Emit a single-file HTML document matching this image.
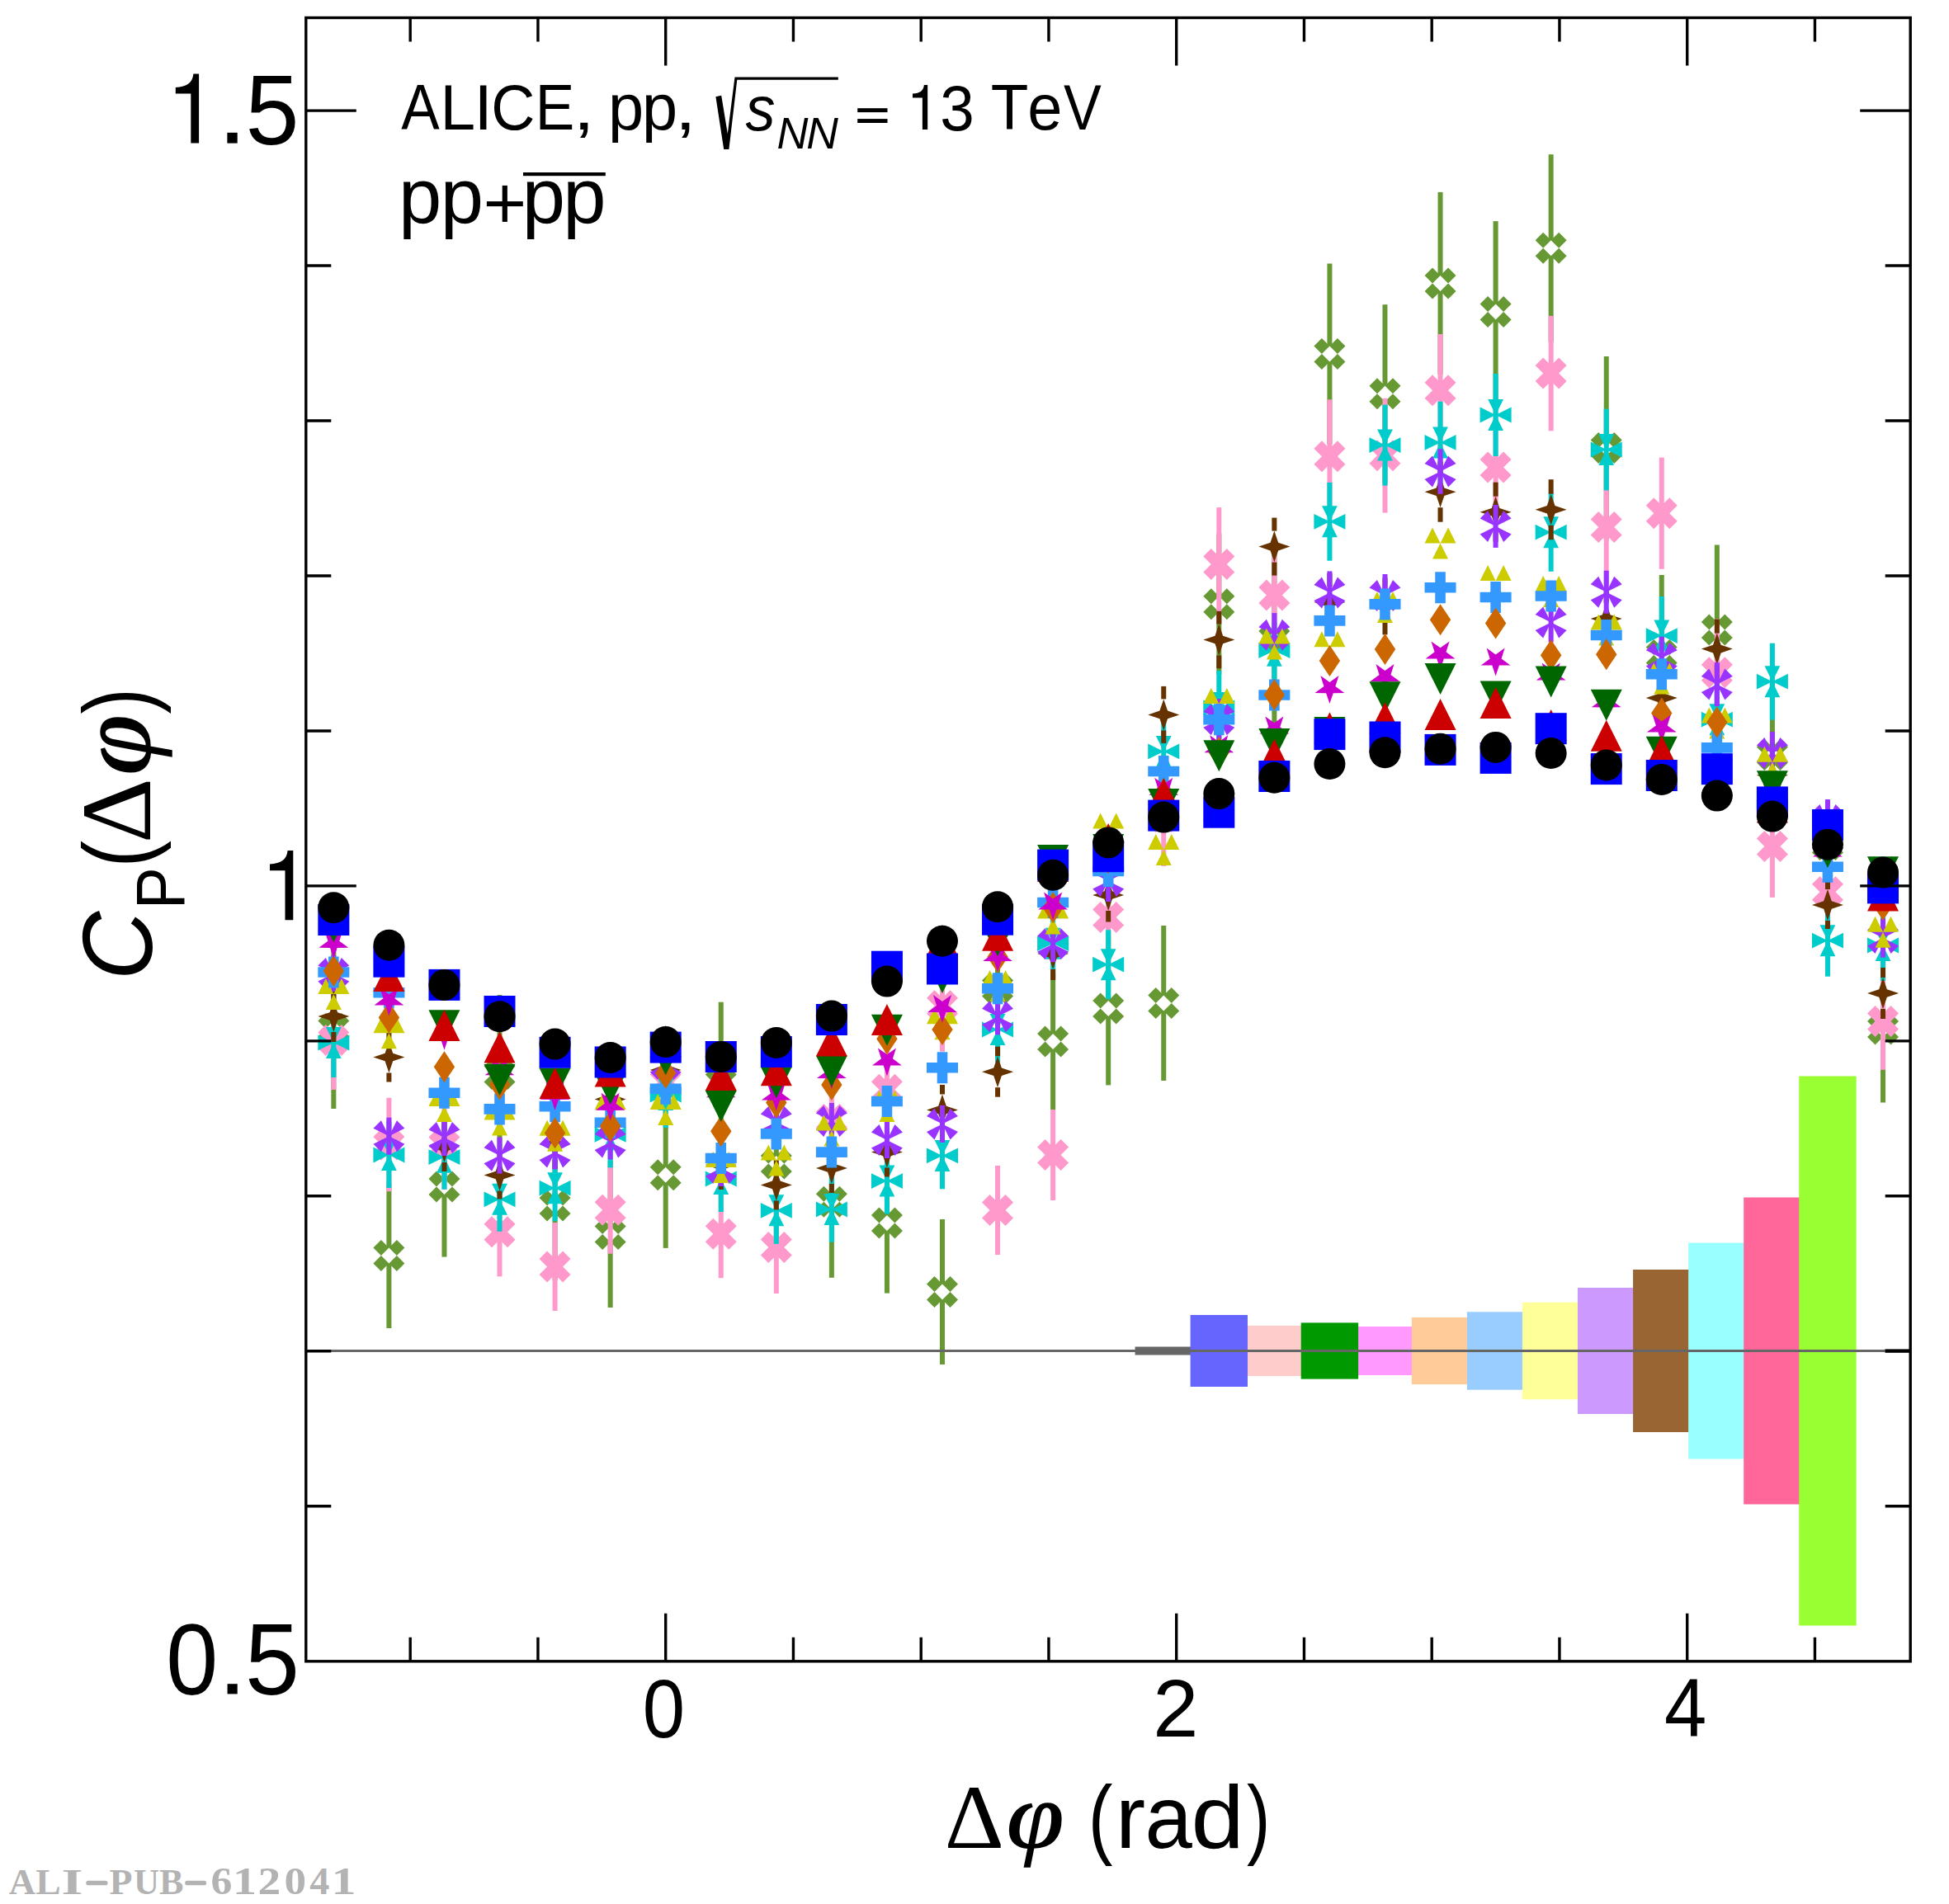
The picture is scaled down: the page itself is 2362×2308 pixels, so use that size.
<!DOCTYPE html><html><head><meta charset="utf-8"><style>html,body{margin:0;padding:0;background:#fff;overflow:hidden}svg{display:block}</style></head><body>
<svg xmlns="http://www.w3.org/2000/svg" xmlns:xlink="http://www.w3.org/1999/xlink" width="2362" height="2308" viewBox="0 0 2362 2308">
<rect width="2362" height="2308" fill="#fff"/>
<defs>
<g id="mL"><path fill-rule="evenodd" d="M0.00,-9.50L9.50,-19.00L19.00,-9.50L9.50,0.00L19.00,9.50L9.50,19.00L0.00,9.50L-9.50,19.00L-19.00,9.50L-9.50,0.00L-19.00,-9.50L-9.50,-19.00Z M0,-9.5L9.5,0L0,9.5L-9.5,0Z"/></g>
<g id="mI"><polygon points="0.00,-9.50 9.50,-19.00 19.00,-9.50 9.50,0.00 19.00,9.50 9.50,19.00 0.00,9.50 -9.50,19.00 -19.00,9.50 -9.50,0.00 -19.00,-9.50 -9.50,-19.00"/></g>
<g id="mC"><path d="M0,0L-19,-9.4L-19,9.4Z M0,0L-9.4,-19L9.4,-19Z M0,0L19,-9.4L19,9.4Z M0,0L-9.4,19L9.4,19Z"/></g>
<g id="mW"><polygon points="0.00,-19.00 4.80,-4.80 19.00,0.00 4.80,4.80 0.00,19.00 -4.80,4.80 -19.00,0.00 -4.80,-4.80"/></g>
<g id="mP"><path d="M0,0L-19,-9.5L-9.5,-19Z M0,0L9.5,-19L19,-9.5Z M0,0L19,9.5L9.5,19Z M0,0L-9.5,19L-19,9.5Z"/></g>
<g id="mY"><path d="M-19,0L0,0L-9.5,-19Z M0,0L19,0L9.5,-19Z M-9.5,19L9.5,19L0,0Z"/></g>
<g id="mD"><polygon points="-6.30,-19.00 6.30,-19.00 6.30,-6.30 19.00,-6.30 19.00,6.30 6.30,6.30 6.30,19.00 -6.30,19.00 -6.30,6.30 -19.00,6.30 -19.00,-6.30 -6.30,-6.30"/></g>
<g id="mO"><polygon points="0.00,-19.00 12.70,0.00 0.00,19.00 -12.70,0.00"/></g>
<g id="mM"><polygon points="0.00,18.80 -4.29,5.91 -17.88,5.81 -6.94,-2.26 -11.05,-15.21 -0.00,-7.30 11.05,-15.21 6.94,-2.26 17.88,5.81 4.29,5.91"/></g>
<g id="mG"><polygon points="-19.00,-19.00 19.00,-19.00 0.00,19.00"/></g>
<g id="mR"><polygon points="0.00,-19.00 19.00,19.00 -19.00,19.00"/></g>
<g id="mB"><rect x="-19" y="-19" width="38" height="38"/></g>
<g id="mK"><circle r="19"/></g>
</defs>
<g>
<rect x="1509.66" y="1606.90" width="69.4" height="61.20" fill="#ffcccc"/>
<rect x="1643.78" y="1608.00" width="69.4" height="59.00" fill="#ff99ff"/>
<rect x="1375.54" y="1632.50" width="69.4" height="10.00" fill="#666666"/>
<rect x="1442.60" y="1594.00" width="69.4" height="87.00" fill="#6666ff"/>
<rect x="1576.72" y="1603.40" width="69.4" height="68.20" fill="#009900"/>
<rect x="1710.84" y="1596.90" width="69.4" height="81.20" fill="#ffcc99"/>
<rect x="1777.90" y="1590.30" width="69.4" height="94.40" fill="#99ccff"/>
<rect x="1844.96" y="1578.70" width="69.4" height="117.60" fill="#ffff99"/>
<rect x="1912.02" y="1561.00" width="69.4" height="153.00" fill="#cc99ff"/>
<rect x="1979.08" y="1539.00" width="69.4" height="197.00" fill="#996633"/>
<rect x="2046.14" y="1506.50" width="69.4" height="262.00" fill="#99ffff"/>
<rect x="2113.20" y="1451.50" width="69.4" height="372.00" fill="#ff6699"/>
<rect x="2180.26" y="1304.50" width="69.4" height="666.00" fill="#99ff33"/>
</g>
<g fill="#669933">
<rect x="401.34" y="1150.00" width="6" height="87.50"/>
<rect x="401.34" y="1256.50" width="6" height="87.50"/>
<use xlink:href="#mL" x="404.34" y="1247.00"/>
<rect x="468.40" y="1434.00" width="6" height="78.50"/>
<rect x="468.40" y="1531.50" width="6" height="78.50"/>
<use xlink:href="#mL" x="471.40" y="1522.00"/>
<rect x="535.46" y="1353.60" width="6" height="75.50"/>
<rect x="535.46" y="1448.10" width="6" height="75.50"/>
<use xlink:href="#mL" x="538.46" y="1438.60"/>
<rect x="602.52" y="1206.00" width="6" height="86.50"/>
<rect x="602.52" y="1311.50" width="6" height="86.50"/>
<use xlink:href="#mL" x="605.52" y="1302.00"/>
<rect x="669.58" y="1371.50" width="6" height="80.50"/>
<rect x="669.58" y="1471.00" width="6" height="80.50"/>
<use xlink:href="#mL" x="672.58" y="1461.50"/>
<rect x="736.64" y="1407.00" width="6" height="79.50"/>
<rect x="736.64" y="1505.50" width="6" height="79.50"/>
<use xlink:href="#mL" x="739.64" y="1496.00"/>
<rect x="803.70" y="1335.50" width="6" height="79.20"/>
<rect x="803.70" y="1433.70" width="6" height="79.20"/>
<use xlink:href="#mL" x="806.70" y="1424.20"/>
<rect x="870.76" y="1214.70" width="6" height="68.80"/>
<rect x="870.76" y="1302.50" width="6" height="68.80"/>
<use xlink:href="#mL" x="873.76" y="1293.00"/>
<rect x="937.82" y="1320.60" width="6" height="80.50"/>
<rect x="937.82" y="1420.10" width="6" height="80.50"/>
<use xlink:href="#mL" x="940.82" y="1410.60"/>
<rect x="1004.88" y="1364.80" width="6" height="82.50"/>
<rect x="1004.88" y="1466.30" width="6" height="82.50"/>
<use xlink:href="#mL" x="1007.88" y="1456.80"/>
<rect x="1071.94" y="1397.60" width="6" height="75.50"/>
<rect x="1071.94" y="1492.10" width="6" height="75.50"/>
<use xlink:href="#mL" x="1074.94" y="1482.60"/>
<rect x="1139.00" y="1478.00" width="6" height="78.50"/>
<rect x="1139.00" y="1575.50" width="6" height="78.50"/>
<use xlink:href="#mL" x="1142.00" y="1566.00"/>
<rect x="1206.06" y="1113.00" width="6" height="75.50"/>
<rect x="1206.06" y="1207.50" width="6" height="75.50"/>
<use xlink:href="#mL" x="1209.06" y="1198.00"/>
<rect x="1273.12" y="1180.00" width="6" height="73.10"/>
<rect x="1273.12" y="1272.10" width="6" height="73.10"/>
<use xlink:href="#mL" x="1276.12" y="1262.60"/>
<rect x="1340.18" y="1129.40" width="6" height="83.50"/>
<rect x="1340.18" y="1231.90" width="6" height="83.50"/>
<use xlink:href="#mL" x="1343.18" y="1222.40"/>
<rect x="1407.24" y="1122.00" width="6" height="84.50"/>
<rect x="1407.24" y="1225.50" width="6" height="84.50"/>
<use xlink:href="#mL" x="1410.24" y="1216.00"/>
<rect x="1474.30" y="647.20" width="6" height="75.50"/>
<rect x="1474.30" y="741.70" width="6" height="75.50"/>
<use xlink:href="#mL" x="1477.30" y="732.20"/>
<rect x="1541.36" y="664.50" width="6" height="100.50"/>
<rect x="1541.36" y="784.00" width="6" height="100.50"/>
<use xlink:href="#mL" x="1544.36" y="774.50"/>
<rect x="1608.42" y="319.50" width="6" height="100.00"/>
<rect x="1608.42" y="438.50" width="6" height="100.00"/>
<use xlink:href="#mL" x="1611.42" y="429.00"/>
<rect x="1675.48" y="369.20" width="6" height="98.50"/>
<rect x="1675.48" y="486.70" width="6" height="98.50"/>
<use xlink:href="#mL" x="1678.48" y="477.20"/>
<rect x="1742.54" y="232.90" width="6" height="101.10"/>
<rect x="1742.54" y="353.00" width="6" height="101.10"/>
<use xlink:href="#mL" x="1745.54" y="343.50"/>
<rect x="1809.60" y="268.10" width="6" height="100.50"/>
<rect x="1809.60" y="387.60" width="6" height="100.50"/>
<use xlink:href="#mL" x="1812.60" y="378.10"/>
<rect x="1876.66" y="187.20" width="6" height="104.00"/>
<rect x="1876.66" y="310.20" width="6" height="104.00"/>
<use xlink:href="#mL" x="1879.66" y="300.70"/>
<rect x="1943.72" y="432.00" width="6" height="101.50"/>
<rect x="1943.72" y="552.50" width="6" height="101.50"/>
<use xlink:href="#mL" x="1946.72" y="543.00"/>
<rect x="2010.78" y="697.00" width="6" height="87.50"/>
<rect x="2010.78" y="803.50" width="6" height="87.50"/>
<use xlink:href="#mL" x="2013.78" y="794.00"/>
<rect x="2077.84" y="660.50" width="6" height="93.50"/>
<rect x="2077.84" y="773.00" width="6" height="93.50"/>
<use xlink:href="#mL" x="2080.84" y="763.50"/>
<rect x="2144.90" y="825.00" width="6" height="80.50"/>
<rect x="2144.90" y="924.50" width="6" height="80.50"/>
<use xlink:href="#mL" x="2147.90" y="915.00"/>
<use xlink:href="#mL" x="2214.96" y="1024.00"/>
<rect x="2279.02" y="1158.50" width="6" height="79.50"/>
<rect x="2279.02" y="1257.00" width="6" height="79.50"/>
<use xlink:href="#mL" x="2282.02" y="1247.50"/>
</g>
<g fill="#ff99cc">
<rect x="401.34" y="1201.00" width="6" height="120.00"/>
<use xlink:href="#mI" x="404.34" y="1261.00"/>
<rect x="468.40" y="1330.80" width="6" height="113.40"/>
<use xlink:href="#mI" x="471.40" y="1387.50"/>
<rect x="535.46" y="1334.00" width="6" height="108.00"/>
<use xlink:href="#mI" x="538.46" y="1388.00"/>
<rect x="602.52" y="1439.30" width="6" height="108.00"/>
<use xlink:href="#mI" x="605.52" y="1493.30"/>
<rect x="669.58" y="1482.00" width="6" height="107.00"/>
<use xlink:href="#mI" x="672.58" y="1535.50"/>
<rect x="736.64" y="1413.70" width="6" height="106.00"/>
<use xlink:href="#mI" x="739.64" y="1466.70"/>
<rect x="803.70" y="1258.00" width="6" height="108.00"/>
<use xlink:href="#mI" x="806.70" y="1312.00"/>
<rect x="870.76" y="1442.20" width="6" height="107.00"/>
<use xlink:href="#mI" x="873.76" y="1495.70"/>
<rect x="937.82" y="1456.00" width="6" height="112.00"/>
<use xlink:href="#mI" x="940.82" y="1512.00"/>
<rect x="1004.88" y="1303.00" width="6" height="108.00"/>
<use xlink:href="#mI" x="1007.88" y="1357.00"/>
<rect x="1071.94" y="1266.70" width="6" height="108.00"/>
<use xlink:href="#mI" x="1074.94" y="1320.70"/>
<rect x="1139.00" y="1163.80" width="6" height="111.00"/>
<use xlink:href="#mI" x="1142.00" y="1219.30"/>
<rect x="1206.06" y="1413.00" width="6" height="108.00"/>
<use xlink:href="#mI" x="1209.06" y="1467.00"/>
<rect x="1273.12" y="1345.00" width="6" height="110.00"/>
<use xlink:href="#mI" x="1276.12" y="1400.00"/>
<rect x="1340.18" y="1057.10" width="6" height="110.00"/>
<use xlink:href="#mI" x="1343.18" y="1112.10"/>
<rect x="1407.24" y="930.00" width="6" height="120.00"/>
<use xlink:href="#mI" x="1410.24" y="990.00"/>
<rect x="1474.30" y="615.10" width="6" height="137.60"/>
<use xlink:href="#mI" x="1477.30" y="683.90"/>
<rect x="1541.36" y="671.40" width="6" height="100.00"/>
<use xlink:href="#mI" x="1544.36" y="721.40"/>
<rect x="1608.42" y="484.30" width="6" height="138.00"/>
<use xlink:href="#mI" x="1611.42" y="553.30"/>
<rect x="1675.48" y="482.80" width="6" height="138.80"/>
<use xlink:href="#mI" x="1678.48" y="552.20"/>
<rect x="1742.54" y="405.00" width="6" height="136.60"/>
<use xlink:href="#mI" x="1745.54" y="473.30"/>
<rect x="1809.60" y="497.50" width="6" height="138.00"/>
<use xlink:href="#mI" x="1812.60" y="566.50"/>
<rect x="1876.66" y="382.90" width="6" height="139.40"/>
<use xlink:href="#mI" x="1879.66" y="452.60"/>
<rect x="1943.72" y="570.10" width="6" height="138.00"/>
<use xlink:href="#mI" x="1946.72" y="639.10"/>
<rect x="2010.78" y="554.60" width="6" height="135.20"/>
<use xlink:href="#mI" x="2013.78" y="622.20"/>
<rect x="2077.84" y="750.30" width="6" height="130.00"/>
<use xlink:href="#mI" x="2080.84" y="815.30"/>
<rect x="2144.90" y="963.90" width="6" height="124.00"/>
<use xlink:href="#mI" x="2147.90" y="1025.90"/>
<rect x="2211.96" y="1026.30" width="6" height="110.00"/>
<use xlink:href="#mI" x="2214.96" y="1081.30"/>
<rect x="2279.02" y="1179.40" width="6" height="117.40"/>
<use xlink:href="#mI" x="2282.02" y="1238.10"/>
</g>
<g fill="#00cccc">
<rect x="401.34" y="1222.00" width="6" height="84.00"/>
<use xlink:href="#mC" x="404.34" y="1264.00"/>
<rect x="468.40" y="1360.00" width="6" height="80.00"/>
<use xlink:href="#mC" x="471.40" y="1400.00"/>
<rect x="535.46" y="1363.70" width="6" height="78.00"/>
<use xlink:href="#mC" x="538.46" y="1402.70"/>
<rect x="602.52" y="1414.80" width="6" height="78.00"/>
<use xlink:href="#mC" x="605.52" y="1453.80"/>
<rect x="669.58" y="1400.20" width="6" height="80.00"/>
<use xlink:href="#mC" x="672.58" y="1440.20"/>
<rect x="736.64" y="1335.30" width="6" height="80.00"/>
<use xlink:href="#mC" x="739.64" y="1375.30"/>
<rect x="803.70" y="1287.00" width="6" height="80.00"/>
<use xlink:href="#mC" x="806.70" y="1327.00"/>
<rect x="870.76" y="1389.00" width="6" height="80.00"/>
<use xlink:href="#mC" x="873.76" y="1429.00"/>
<rect x="937.82" y="1426.80" width="6" height="81.00"/>
<use xlink:href="#mC" x="940.82" y="1467.30"/>
<rect x="1004.88" y="1426.40" width="6" height="79.20"/>
<use xlink:href="#mC" x="1007.88" y="1466.00"/>
<rect x="1071.94" y="1391.60" width="6" height="80.00"/>
<use xlink:href="#mC" x="1074.94" y="1431.60"/>
<rect x="1139.00" y="1360.50" width="6" height="80.80"/>
<use xlink:href="#mC" x="1142.00" y="1400.90"/>
<rect x="1206.06" y="1208.00" width="6" height="80.00"/>
<use xlink:href="#mC" x="1209.06" y="1248.00"/>
<rect x="1273.12" y="1101.70" width="6" height="84.00"/>
<use xlink:href="#mC" x="1276.12" y="1143.70"/>
<rect x="1340.18" y="1127.20" width="6" height="84.00"/>
<use xlink:href="#mC" x="1343.18" y="1169.20"/>
<rect x="1407.24" y="865.90" width="6" height="90.00"/>
<use xlink:href="#mC" x="1410.24" y="910.90"/>
<rect x="1474.30" y="813.00" width="6" height="90.00"/>
<use xlink:href="#mC" x="1477.30" y="858.00"/>
<rect x="1541.36" y="754.00" width="6" height="69.40"/>
<use xlink:href="#mC" x="1544.36" y="788.70"/>
<rect x="1608.42" y="584.90" width="6" height="94.80"/>
<use xlink:href="#mC" x="1611.42" y="632.30"/>
<rect x="1675.48" y="490.60" width="6" height="98.00"/>
<use xlink:href="#mC" x="1678.48" y="539.60"/>
<rect x="1742.54" y="486.80" width="6" height="99.20"/>
<use xlink:href="#mC" x="1745.54" y="536.40"/>
<rect x="1809.60" y="453.00" width="6" height="100.00"/>
<use xlink:href="#mC" x="1812.60" y="503.00"/>
<rect x="1876.66" y="597.60" width="6" height="95.20"/>
<use xlink:href="#mC" x="1879.66" y="645.20"/>
<rect x="1943.72" y="495.60" width="6" height="98.80"/>
<use xlink:href="#mC" x="1946.72" y="545.00"/>
<rect x="2010.78" y="723.00" width="6" height="95.20"/>
<use xlink:href="#mC" x="2013.78" y="770.60"/>
<rect x="2077.84" y="827.20" width="6" height="90.00"/>
<use xlink:href="#mC" x="2080.84" y="872.20"/>
<rect x="2144.90" y="779.70" width="6" height="93.00"/>
<use xlink:href="#mC" x="2147.90" y="826.20"/>
<rect x="2211.96" y="1096.70" width="6" height="87.00"/>
<use xlink:href="#mC" x="2214.96" y="1140.20"/>
<rect x="2279.02" y="1103.00" width="6" height="86.00"/>
<use xlink:href="#mC" x="2282.02" y="1146.00"/>
</g>
<g fill="#663300">
<rect x="401.34" y="1201.00" width="6" height="12.00"/>
<rect x="401.34" y="1251.00" width="6" height="12.00"/>
<use xlink:href="#mW" x="404.34" y="1232.00"/>
<rect x="468.40" y="1251.50" width="6" height="11.00"/>
<rect x="468.40" y="1300.50" width="6" height="11.00"/>
<use xlink:href="#mW" x="471.40" y="1281.50"/>
<rect x="535.46" y="1360.00" width="6" height="11.00"/>
<rect x="535.46" y="1409.00" width="6" height="11.00"/>
<use xlink:href="#mW" x="538.46" y="1390.00"/>
<rect x="602.52" y="1395.50" width="6" height="10.00"/>
<rect x="602.52" y="1443.50" width="6" height="10.00"/>
<use xlink:href="#mW" x="605.52" y="1424.50"/>
<rect x="669.58" y="1357.00" width="6" height="11.00"/>
<rect x="669.58" y="1406.00" width="6" height="11.00"/>
<use xlink:href="#mW" x="672.58" y="1387.00"/>
<rect x="736.64" y="1302.40" width="6" height="11.00"/>
<rect x="736.64" y="1351.40" width="6" height="11.00"/>
<use xlink:href="#mW" x="739.64" y="1332.40"/>
<rect x="803.70" y="1267.00" width="6" height="11.00"/>
<rect x="803.70" y="1316.00" width="6" height="11.00"/>
<use xlink:href="#mW" x="806.70" y="1297.00"/>
<rect x="870.76" y="1382.00" width="6" height="11.00"/>
<rect x="870.76" y="1431.00" width="6" height="11.00"/>
<use xlink:href="#mW" x="873.76" y="1412.00"/>
<rect x="937.82" y="1406.40" width="6" height="11.00"/>
<rect x="937.82" y="1455.40" width="6" height="11.00"/>
<use xlink:href="#mW" x="940.82" y="1436.40"/>
<rect x="1004.88" y="1386.00" width="6" height="11.00"/>
<rect x="1004.88" y="1435.00" width="6" height="11.00"/>
<use xlink:href="#mW" x="1007.88" y="1416.00"/>
<rect x="1071.94" y="1366.50" width="6" height="11.00"/>
<rect x="1071.94" y="1415.50" width="6" height="11.00"/>
<use xlink:href="#mW" x="1074.94" y="1396.50"/>
<rect x="1139.00" y="1315.00" width="6" height="11.50"/>
<rect x="1139.00" y="1364.50" width="6" height="11.50"/>
<use xlink:href="#mW" x="1142.00" y="1345.50"/>
<rect x="1206.06" y="1268.70" width="6" height="11.50"/>
<rect x="1206.06" y="1318.20" width="6" height="11.50"/>
<use xlink:href="#mW" x="1209.06" y="1299.20"/>
<rect x="1273.12" y="1124.00" width="6" height="13.00"/>
<rect x="1273.12" y="1175.00" width="6" height="13.00"/>
<use xlink:href="#mW" x="1276.12" y="1156.00"/>
<rect x="1340.18" y="1052.50" width="6" height="13.50"/>
<rect x="1340.18" y="1104.00" width="6" height="13.50"/>
<use xlink:href="#mW" x="1343.18" y="1085.00"/>
<rect x="1407.24" y="831.90" width="6" height="15.50"/>
<rect x="1407.24" y="885.40" width="6" height="15.50"/>
<use xlink:href="#mW" x="1410.24" y="866.40"/>
<rect x="1474.30" y="740.80" width="6" height="15.70"/>
<rect x="1474.30" y="794.50" width="6" height="15.70"/>
<use xlink:href="#mW" x="1477.30" y="775.50"/>
<rect x="1541.36" y="627.60" width="6" height="16.00"/>
<rect x="1541.36" y="681.60" width="6" height="16.00"/>
<use xlink:href="#mW" x="1544.36" y="662.60"/>
<rect x="1608.42" y="695.00" width="6" height="16.00"/>
<rect x="1608.42" y="749.00" width="6" height="16.00"/>
<use xlink:href="#mW" x="1611.42" y="730.00"/>
<rect x="1675.48" y="700.60" width="6" height="15.40"/>
<rect x="1675.48" y="754.00" width="6" height="15.40"/>
<use xlink:href="#mW" x="1678.48" y="735.00"/>
<rect x="1742.54" y="559.70" width="6" height="17.50"/>
<rect x="1742.54" y="615.20" width="6" height="17.50"/>
<use xlink:href="#mW" x="1745.54" y="596.20"/>
<rect x="1809.60" y="584.70" width="6" height="17.00"/>
<rect x="1809.60" y="639.70" width="6" height="17.00"/>
<use xlink:href="#mW" x="1812.60" y="620.70"/>
<rect x="1876.66" y="581.20" width="6" height="17.50"/>
<rect x="1876.66" y="636.70" width="6" height="17.50"/>
<use xlink:href="#mW" x="1879.66" y="617.70"/>
<rect x="1943.72" y="714.00" width="6" height="17.00"/>
<rect x="1943.72" y="769.00" width="6" height="17.00"/>
<use xlink:href="#mW" x="1946.72" y="750.00"/>
<rect x="2010.78" y="810.10" width="6" height="17.00"/>
<rect x="2010.78" y="865.10" width="6" height="17.00"/>
<use xlink:href="#mW" x="2013.78" y="846.10"/>
<rect x="2077.84" y="750.60" width="6" height="17.00"/>
<rect x="2077.84" y="805.60" width="6" height="17.00"/>
<use xlink:href="#mW" x="2080.84" y="786.60"/>
<rect x="2144.90" y="903.70" width="6" height="17.00"/>
<rect x="2144.90" y="958.70" width="6" height="17.00"/>
<use xlink:href="#mW" x="2147.90" y="939.70"/>
<rect x="2211.96" y="1068.00" width="6" height="10.00"/>
<rect x="2211.96" y="1116.00" width="6" height="10.00"/>
<use xlink:href="#mW" x="2214.96" y="1097.00"/>
<rect x="2279.02" y="1173.00" width="6" height="12.00"/>
<rect x="2279.02" y="1223.00" width="6" height="12.00"/>
<use xlink:href="#mW" x="2282.02" y="1204.00"/>
</g>
<g fill="#9933ff">
<rect x="401.34" y="1158.00" width="6" height="44.00"/>
<use xlink:href="#mP" x="404.34" y="1180.00"/>
<rect x="468.40" y="1354.70" width="6" height="45.00"/>
<use xlink:href="#mP" x="471.40" y="1377.20"/>
<rect x="535.46" y="1357.10" width="6" height="44.00"/>
<use xlink:href="#mP" x="538.46" y="1379.10"/>
<rect x="602.52" y="1378.70" width="6" height="44.00"/>
<use xlink:href="#mP" x="605.52" y="1400.70"/>
<rect x="669.58" y="1375.40" width="6" height="42.00"/>
<use xlink:href="#mP" x="672.58" y="1396.40"/>
<rect x="736.64" y="1363.50" width="6" height="42.00"/>
<use xlink:href="#mP" x="739.64" y="1384.50"/>
<rect x="803.70" y="1268.00" width="6" height="44.00"/>
<use xlink:href="#mP" x="806.70" y="1290.00"/>
<rect x="870.76" y="1394.00" width="6" height="44.00"/>
<use xlink:href="#mP" x="873.76" y="1416.00"/>
<rect x="937.82" y="1338.00" width="6" height="44.00"/>
<use xlink:href="#mP" x="940.82" y="1360.00"/>
<rect x="1004.88" y="1337.00" width="6" height="44.00"/>
<use xlink:href="#mP" x="1007.88" y="1359.00"/>
<rect x="1071.94" y="1360.00" width="6" height="44.00"/>
<use xlink:href="#mP" x="1074.94" y="1382.00"/>
<rect x="1139.00" y="1339.90" width="6" height="45.00"/>
<use xlink:href="#mP" x="1142.00" y="1362.40"/>
<rect x="1206.06" y="1210.30" width="6" height="44.00"/>
<use xlink:href="#mP" x="1209.06" y="1232.30"/>
<rect x="1273.12" y="1122.20" width="6" height="44.00"/>
<use xlink:href="#mP" x="1276.12" y="1144.20"/>
<rect x="1340.18" y="1043.00" width="6" height="50.00"/>
<use xlink:href="#mP" x="1343.18" y="1068.00"/>
<rect x="1407.24" y="963.00" width="6" height="44.00"/>
<use xlink:href="#mP" x="1410.24" y="985.00"/>
<rect x="1474.30" y="847.20" width="6" height="50.00"/>
<use xlink:href="#mP" x="1477.30" y="872.20"/>
<rect x="1541.36" y="743.10" width="6" height="53.20"/>
<use xlink:href="#mP" x="1544.36" y="769.70"/>
<rect x="1608.42" y="692.40" width="6" height="52.00"/>
<use xlink:href="#mP" x="1611.42" y="718.40"/>
<rect x="1675.48" y="696.00" width="6" height="52.00"/>
<use xlink:href="#mP" x="1678.48" y="722.00"/>
<rect x="1742.54" y="544.20" width="6" height="54.60"/>
<use xlink:href="#mP" x="1745.54" y="571.50"/>
<rect x="1809.60" y="611.90" width="6" height="52.00"/>
<use xlink:href="#mP" x="1812.60" y="637.90"/>
<rect x="1876.66" y="730.50" width="6" height="48.00"/>
<use xlink:href="#mP" x="1879.66" y="754.50"/>
<rect x="1943.72" y="691.70" width="6" height="52.00"/>
<use xlink:href="#mP" x="1946.72" y="717.70"/>
<rect x="2010.78" y="771.70" width="6" height="52.00"/>
<use xlink:href="#mP" x="2013.78" y="797.70"/>
<rect x="2077.84" y="803.10" width="6" height="53.00"/>
<use xlink:href="#mP" x="2080.84" y="829.60"/>
<rect x="2144.90" y="887.00" width="6" height="52.00"/>
<use xlink:href="#mP" x="2147.90" y="913.00"/>
<rect x="2211.96" y="969.00" width="6" height="50.00"/>
<use xlink:href="#mP" x="2214.96" y="994.00"/>
<rect x="2279.02" y="1113.30" width="6" height="47.40"/>
<use xlink:href="#mP" x="2282.02" y="1137.00"/>
</g>
<g fill="#cccc00">
<use xlink:href="#mY" x="404.34" y="1205.00"/>
<use xlink:href="#mY" x="471.40" y="1252.30"/>
<use xlink:href="#mY" x="538.46" y="1341.00"/>
<use xlink:href="#mY" x="605.52" y="1357.50"/>
<use xlink:href="#mY" x="672.58" y="1376.70"/>
<use xlink:href="#mY" x="739.64" y="1345.00"/>
<use xlink:href="#mY" x="806.70" y="1345.00"/>
<use xlink:href="#mY" x="873.76" y="1415.00"/>
<use xlink:href="#mY" x="940.82" y="1406.60"/>
<use xlink:href="#mY" x="1007.88" y="1370.60"/>
<use xlink:href="#mY" x="1074.94" y="1340.90"/>
<use xlink:href="#mY" x="1142.00" y="1241.30"/>
<use xlink:href="#mY" x="1209.06" y="1195.00"/>
<use xlink:href="#mY" x="1276.12" y="1113.60"/>
<use xlink:href="#mY" x="1343.18" y="1004.40"/>
<use xlink:href="#mY" x="1410.24" y="1029.90"/>
<use xlink:href="#mY" x="1477.30" y="852.90"/>
<use xlink:href="#mY" x="1544.36" y="780.50"/>
<use xlink:href="#mY" x="1611.42" y="784.20"/>
<use xlink:href="#mY" x="1678.48" y="736.00"/>
<use xlink:href="#mY" x="1745.54" y="658.60"/>
<use xlink:href="#mY" x="1812.60" y="704.00"/>
<use xlink:href="#mY" x="1879.66" y="717.00"/>
<use xlink:href="#mY" x="1946.72" y="763.40"/>
<use xlink:href="#mY" x="2013.78" y="822.50"/>
<use xlink:href="#mY" x="2080.84" y="876.40"/>
<use xlink:href="#mY" x="2147.90" y="923.70"/>
<use xlink:href="#mY" x="2214.96" y="1010.00"/>
<use xlink:href="#mY" x="2282.02" y="1129.80"/>
</g>
<g fill="#3399ff">
<use xlink:href="#mD" x="404.34" y="1178.50"/>
<use xlink:href="#mD" x="471.40" y="1203.20"/>
<use xlink:href="#mD" x="538.46" y="1324.70"/>
<use xlink:href="#mD" x="605.52" y="1344.40"/>
<use xlink:href="#mD" x="672.58" y="1341.20"/>
<use xlink:href="#mD" x="739.64" y="1360.80"/>
<use xlink:href="#mD" x="806.70" y="1319.70"/>
<use xlink:href="#mD" x="873.76" y="1404.00"/>
<use xlink:href="#mD" x="940.82" y="1374.40"/>
<use xlink:href="#mD" x="1007.88" y="1396.60"/>
<use xlink:href="#mD" x="1074.94" y="1335.00"/>
<use xlink:href="#mD" x="1142.00" y="1294.30"/>
<use xlink:href="#mD" x="1209.06" y="1198.30"/>
<use xlink:href="#mD" x="1276.12" y="1094.00"/>
<use xlink:href="#mD" x="1343.18" y="1056.00"/>
<use xlink:href="#mD" x="1410.24" y="935.00"/>
<use xlink:href="#mD" x="1477.30" y="872.20"/>
<use xlink:href="#mD" x="1544.36" y="842.50"/>
<use xlink:href="#mD" x="1611.42" y="752.40"/>
<use xlink:href="#mD" x="1678.48" y="732.40"/>
<use xlink:href="#mD" x="1745.54" y="712.30"/>
<use xlink:href="#mD" x="1812.60" y="724.00"/>
<use xlink:href="#mD" x="1879.66" y="722.50"/>
<use xlink:href="#mD" x="1946.72" y="770.00"/>
<use xlink:href="#mD" x="2013.78" y="817.20"/>
<use xlink:href="#mD" x="2080.84" y="906.40"/>
<use xlink:href="#mD" x="2147.90" y="975.00"/>
<use xlink:href="#mD" x="2214.96" y="1050.70"/>
<use xlink:href="#mD" x="2282.02" y="1080.00"/>
</g>
<g fill="#cc6600">
<use xlink:href="#mO" x="404.34" y="1177.00"/>
<use xlink:href="#mO" x="471.40" y="1233.40"/>
<use xlink:href="#mO" x="538.46" y="1293.20"/>
<use xlink:href="#mO" x="605.52" y="1314.40"/>
<use xlink:href="#mO" x="672.58" y="1373.60"/>
<use xlink:href="#mO" x="739.64" y="1365.00"/>
<use xlink:href="#mO" x="806.70" y="1300.80"/>
<use xlink:href="#mO" x="873.76" y="1371.30"/>
<use xlink:href="#mO" x="940.82" y="1336.60"/>
<use xlink:href="#mO" x="1007.88" y="1315.00"/>
<use xlink:href="#mO" x="1074.94" y="1259.30"/>
<use xlink:href="#mO" x="1142.00" y="1248.00"/>
<use xlink:href="#mO" x="1209.06" y="1160.00"/>
<use xlink:href="#mO" x="1276.12" y="1100.30"/>
<use xlink:href="#mO" x="1343.18" y="1040.00"/>
<use xlink:href="#mO" x="1410.24" y="962.00"/>
<use xlink:href="#mO" x="1477.30" y="912.00"/>
<use xlink:href="#mO" x="1544.36" y="842.20"/>
<use xlink:href="#mO" x="1611.42" y="801.10"/>
<use xlink:href="#mO" x="1678.48" y="787.00"/>
<use xlink:href="#mO" x="1745.54" y="751.30"/>
<use xlink:href="#mO" x="1812.60" y="755.60"/>
<use xlink:href="#mO" x="1879.66" y="794.20"/>
<use xlink:href="#mO" x="1946.72" y="793.20"/>
<use xlink:href="#mO" x="2013.78" y="864.50"/>
<use xlink:href="#mO" x="2080.84" y="875.50"/>
<use xlink:href="#mO" x="2147.90" y="970.00"/>
<use xlink:href="#mO" x="2214.96" y="1030.00"/>
<use xlink:href="#mO" x="2282.02" y="1096.80"/>
</g>
<g fill="#cc00cc">
<use xlink:href="#mM" x="404.34" y="1143.00"/>
<use xlink:href="#mM" x="471.40" y="1212.60"/>
<use xlink:href="#mM" x="538.46" y="1253.90"/>
<use xlink:href="#mM" x="605.52" y="1297.50"/>
<use xlink:href="#mM" x="672.58" y="1327.00"/>
<use xlink:href="#mM" x="739.64" y="1340.00"/>
<use xlink:href="#mM" x="806.70" y="1272.00"/>
<use xlink:href="#mM" x="873.76" y="1324.40"/>
<use xlink:href="#mM" x="940.82" y="1327.80"/>
<use xlink:href="#mM" x="1007.88" y="1301.30"/>
<use xlink:href="#mM" x="1074.94" y="1285.60"/>
<use xlink:href="#mM" x="1142.00" y="1221.20"/>
<use xlink:href="#mM" x="1209.06" y="1159.30"/>
<use xlink:href="#mM" x="1276.12" y="1096.70"/>
<use xlink:href="#mM" x="1343.18" y="1033.00"/>
<use xlink:href="#mM" x="1410.24" y="958.00"/>
<use xlink:href="#mM" x="1477.30" y="906.50"/>
<use xlink:href="#mM" x="1544.36" y="883.60"/>
<use xlink:href="#mM" x="1611.42" y="834.30"/>
<use xlink:href="#mM" x="1678.48" y="820.30"/>
<use xlink:href="#mM" x="1745.54" y="792.60"/>
<use xlink:href="#mM" x="1812.60" y="800.70"/>
<use xlink:href="#mM" x="1879.66" y="818.70"/>
<use xlink:href="#mM" x="1946.72" y="851.50"/>
<use xlink:href="#mM" x="2013.78" y="881.70"/>
<use xlink:href="#mM" x="2080.84" y="935.00"/>
<use xlink:href="#mM" x="2147.90" y="965.00"/>
<use xlink:href="#mM" x="2214.96" y="1032.60"/>
<use xlink:href="#mM" x="2282.02" y="1053.00"/>
</g>
<g fill="#006600">
<use xlink:href="#mG" x="404.34" y="1123.00"/>
<use xlink:href="#mG" x="471.40" y="1180.00"/>
<use xlink:href="#mG" x="538.46" y="1243.30"/>
<use xlink:href="#mG" x="605.52" y="1309.00"/>
<use xlink:href="#mG" x="672.58" y="1313.80"/>
<use xlink:href="#mG" x="739.64" y="1319.70"/>
<use xlink:href="#mG" x="806.70" y="1284.30"/>
<use xlink:href="#mG" x="873.76" y="1341.00"/>
<use xlink:href="#mG" x="940.82" y="1312.00"/>
<use xlink:href="#mG" x="1007.88" y="1298.50"/>
<use xlink:href="#mG" x="1074.94" y="1248.80"/>
<use xlink:href="#mG" x="1142.00" y="1185.00"/>
<use xlink:href="#mG" x="1209.06" y="1140.00"/>
<use xlink:href="#mG" x="1276.12" y="1043.10"/>
<use xlink:href="#mG" x="1343.18" y="1030.00"/>
<use xlink:href="#mG" x="1410.24" y="975.00"/>
<use xlink:href="#mG" x="1477.30" y="916.20"/>
<use xlink:href="#mG" x="1544.36" y="902.00"/>
<use xlink:href="#mG" x="1611.42" y="888.10"/>
<use xlink:href="#mG" x="1678.48" y="845.20"/>
<use xlink:href="#mG" x="1745.54" y="822.90"/>
<use xlink:href="#mG" x="1812.60" y="844.60"/>
<use xlink:href="#mG" x="1879.66" y="826.40"/>
<use xlink:href="#mG" x="1946.72" y="854.70"/>
<use xlink:href="#mG" x="2013.78" y="911.70"/>
<use xlink:href="#mG" x="2080.84" y="940.00"/>
<use xlink:href="#mG" x="2147.90" y="953.30"/>
<use xlink:href="#mG" x="2214.96" y="1033.00"/>
<use xlink:href="#mG" x="2282.02" y="1057.30"/>
</g>
<g fill="#cc0000">
<use xlink:href="#mR" x="404.34" y="1110.00"/>
<use xlink:href="#mR" x="471.40" y="1183.00"/>
<use xlink:href="#mR" x="538.46" y="1243.00"/>
<use xlink:href="#mR" x="605.52" y="1269.40"/>
<use xlink:href="#mR" x="672.58" y="1313.00"/>
<use xlink:href="#mR" x="739.64" y="1298.50"/>
<use xlink:href="#mR" x="806.70" y="1262.00"/>
<use xlink:href="#mR" x="873.76" y="1303.10"/>
<use xlink:href="#mR" x="940.82" y="1297.30"/>
<use xlink:href="#mR" x="1007.88" y="1261.50"/>
<use xlink:href="#mR" x="1074.94" y="1236.00"/>
<use xlink:href="#mR" x="1142.00" y="1140.00"/>
<use xlink:href="#mR" x="1209.06" y="1133.80"/>
<use xlink:href="#mR" x="1276.12" y="1050.00"/>
<use xlink:href="#mR" x="1343.18" y="1017.00"/>
<use xlink:href="#mR" x="1410.24" y="962.30"/>
<use xlink:href="#mR" x="1477.30" y="975.00"/>
<use xlink:href="#mR" x="1544.36" y="914.70"/>
<use xlink:href="#mR" x="1611.42" y="882.30"/>
<use xlink:href="#mR" x="1678.48" y="870.00"/>
<use xlink:href="#mR" x="1745.54" y="866.00"/>
<use xlink:href="#mR" x="1812.60" y="851.90"/>
<use xlink:href="#mR" x="1879.66" y="878.90"/>
<use xlink:href="#mR" x="1946.72" y="891.70"/>
<use xlink:href="#mR" x="2013.78" y="910.40"/>
<use xlink:href="#mR" x="2080.84" y="945.00"/>
<use xlink:href="#mR" x="2147.90" y="978.40"/>
<use xlink:href="#mR" x="2214.96" y="1010.00"/>
<use xlink:href="#mR" x="2282.02" y="1085.50"/>
</g>
<g fill="#0000ff">
<use xlink:href="#mB" x="404.34" y="1115.00"/>
<use xlink:href="#mB" x="471.40" y="1165.70"/>
<use xlink:href="#mB" x="538.46" y="1193.90"/>
<use xlink:href="#mB" x="605.52" y="1226.00"/>
<use xlink:href="#mB" x="672.58" y="1275.80"/>
<use xlink:href="#mB" x="739.64" y="1287.50"/>
<use xlink:href="#mB" x="806.70" y="1269.60"/>
<use xlink:href="#mB" x="873.76" y="1281.00"/>
<use xlink:href="#mB" x="940.82" y="1275.00"/>
<use xlink:href="#mB" x="1007.88" y="1236.00"/>
<use xlink:href="#mB" x="1074.94" y="1171.70"/>
<use xlink:href="#mB" x="1142.00" y="1174.50"/>
<use xlink:href="#mB" x="1209.06" y="1114.70"/>
<use xlink:href="#mB" x="1276.12" y="1048.60"/>
<use xlink:href="#mB" x="1343.18" y="1038.20"/>
<use xlink:href="#mB" x="1410.24" y="988.60"/>
<use xlink:href="#mB" x="1477.30" y="984.70"/>
<use xlink:href="#mB" x="1544.36" y="941.00"/>
<use xlink:href="#mB" x="1611.42" y="890.10"/>
<use xlink:href="#mB" x="1678.48" y="893.50"/>
<use xlink:href="#mB" x="1745.54" y="908.90"/>
<use xlink:href="#mB" x="1812.60" y="918.90"/>
<use xlink:href="#mB" x="1879.66" y="883.20"/>
<use xlink:href="#mB" x="1946.72" y="932.10"/>
<use xlink:href="#mB" x="2013.78" y="940.00"/>
<use xlink:href="#mB" x="2080.84" y="932.20"/>
<use xlink:href="#mB" x="2147.90" y="972.40"/>
<use xlink:href="#mB" x="2214.96" y="1000.00"/>
<use xlink:href="#mB" x="2282.02" y="1076.40"/>
</g>
<g fill="#000000">
<use xlink:href="#mK" x="404.34" y="1100.30"/>
<use xlink:href="#mK" x="471.40" y="1145.80"/>
<use xlink:href="#mK" x="538.46" y="1193.90"/>
<use xlink:href="#mK" x="605.52" y="1232.30"/>
<use xlink:href="#mK" x="672.58" y="1265.60"/>
<use xlink:href="#mK" x="739.64" y="1282.00"/>
<use xlink:href="#mK" x="806.70" y="1263.10"/>
<use xlink:href="#mK" x="873.76" y="1281.00"/>
<use xlink:href="#mK" x="940.82" y="1264.00"/>
<use xlink:href="#mK" x="1007.88" y="1231.60"/>
<use xlink:href="#mK" x="1074.94" y="1189.60"/>
<use xlink:href="#mK" x="1142.00" y="1140.80"/>
<use xlink:href="#mK" x="1209.06" y="1099.30"/>
<use xlink:href="#mK" x="1276.12" y="1060.70"/>
<use xlink:href="#mK" x="1343.18" y="1021.40"/>
<use xlink:href="#mK" x="1410.24" y="990.60"/>
<use xlink:href="#mK" x="1477.30" y="962.10"/>
<use xlink:href="#mK" x="1544.36" y="942.70"/>
<use xlink:href="#mK" x="1611.42" y="926.00"/>
<use xlink:href="#mK" x="1678.48" y="912.20"/>
<use xlink:href="#mK" x="1745.54" y="907.70"/>
<use xlink:href="#mK" x="1812.60" y="905.90"/>
<use xlink:href="#mK" x="1879.66" y="913.00"/>
<use xlink:href="#mK" x="1946.72" y="927.50"/>
<use xlink:href="#mK" x="2013.78" y="945.00"/>
<use xlink:href="#mK" x="2080.84" y="964.60"/>
<use xlink:href="#mK" x="2147.90" y="989.60"/>
<use xlink:href="#mK" x="2214.96" y="1023.80"/>
<use xlink:href="#mK" x="2282.02" y="1057.60"/>
</g>
<rect x="372" y="1636.0" width="1942" height="3" fill="#666666"/>
<rect x="2284.5" y="1635.0" width="30" height="5" fill="#666666"/>
<g fill="none" stroke="#000" stroke-width="3.4">
<rect x="370.8" y="21.5" width="1944.3999999999999" height="1992.3"/>
<path d="M370.8,1825.74h30.5M2315.2,1825.74h-30.5M370.8,1637.78h30.5M2315.2,1637.78h-30.5M370.8,1449.82h30.5M2315.2,1449.82h-30.5M370.8,1261.86h30.5M2315.2,1261.86h-30.5M370.8,1073.90h61M2315.2,1073.90h-61M370.8,885.94h30.5M2315.2,885.94h-30.5M370.8,697.98h30.5M2315.2,697.98h-30.5M370.8,510.02h30.5M2315.2,510.02h-30.5M370.8,322.06h30.5M2315.2,322.06h-30.5M370.8,134.10h61M2315.2,134.10h-61M497.20,2013.8v-29M497.20,21.5v29M651.95,2013.8v-29M651.95,21.5v29M806.70,2013.8v-58M806.70,21.5v58M961.45,2013.8v-29M961.45,21.5v29M1116.20,2013.8v-29M1116.20,21.5v29M1270.95,2013.8v-29M1270.95,21.5v29M1425.70,2013.8v-58M1425.70,21.5v58M1580.45,2013.8v-29M1580.45,21.5v29M1735.20,2013.8v-29M1735.20,21.5v29M1889.95,2013.8v-29M1889.95,21.5v29M2044.70,2013.8v-58M2044.70,21.5v58M2199.45,2013.8v-29M2199.45,21.5v29"/>
</g>
<g fill="#000">
<path d="M234.40,89.50 L241.10,89.50 L241.10,173.60 L231.30,173.60 L231.30,113.60 L212.80,113.60 L212.80,105.90 C226.80,105.00 233.30,100.60 234.40,89.50 Z"/>
<rect x="275.4" y="160.8" width="12.3" height="12.8"/>
<text transform="translate(302.10,174.50) scale(0.9657,1)" x="-4.84" y="0" font-size="121" font-family="Liberation Sans, sans-serif">5</text>
<path d="M348.60,1031.10 L355.30,1031.10 L355.30,1115.20 L345.50,1115.20 L345.50,1055.20 L327.00,1055.20 L327.00,1047.50 C341.00,1046.60 347.50,1042.20 348.60,1031.10 Z"/>
<text transform="translate(205.70,2054.40) scale(0.9239,1)" x="-4.79" y="0" font-size="122.5" font-family="Liberation Sans, sans-serif">0</text>
<rect x="275.6" y="2041.2" width="12.1" height="12.2"/>
<text transform="translate(301.80,2054.40) scale(0.9724,1)" x="-4.88" y="0" font-size="121.9" font-family="Liberation Sans, sans-serif">5</text>
<text transform="translate(782.40,2105.90) scale(0.9253,1)" x="-3.89" y="0" font-size="99.7" font-family="Liberation Sans, sans-serif">0</text>
<text transform="translate(1402.10,2104.80) scale(1.0092,1)" x="-4.93" y="0" font-size="98.1" font-family="Liberation Sans, sans-serif">2</text>
<text transform="translate(2019.20,2104.80) scale(0.9265,1)" x="-2.29" y="0" font-size="99.6" font-family="Liberation Sans, sans-serif">4</text>
<text transform="translate(486.40,156.80) scale(0.8990,1)" x="-0.15" y="0" font-size="77.5" font-family="Liberation Sans, sans-serif">A</text>
<text transform="translate(539.80,156.80) scale(0.9891,1)" x="-6.36" y="0" font-size="77.5" font-family="Liberation Sans, sans-serif">L</text>
<text transform="translate(581.90,156.80) scale(1.0377,1)" x="-7.15" y="0" font-size="77.5" font-family="Liberation Sans, sans-serif">I</text>
<text transform="translate(598.90,156.80) scale(0.9495,1)" x="-3.94" y="0" font-size="77.5" font-family="Liberation Sans, sans-serif">C</text>
<text transform="translate(654.70,156.80) scale(0.9190,1)" x="-6.36" y="0" font-size="77.5" font-family="Liberation Sans, sans-serif">E</text>
<text transform="translate(702.90,156.80) scale(1.2227,1)" x="-6.96" y="0" font-size="77.5" font-family="Liberation Sans, sans-serif">,</text>
<text transform="translate(741.90,156.80) scale(1.0014,1)" x="-5.00" y="0" font-size="77.5" font-family="Liberation Sans, sans-serif">p</text>
<text transform="translate(783.00,156.80) scale(1.0014,1)" x="-5.00" y="0" font-size="77.5" font-family="Liberation Sans, sans-serif">p</text>
<text transform="translate(826.10,156.80) scale(1.2095,1)" x="-6.96" y="0" font-size="77.5" font-family="Liberation Sans, sans-serif">,</text>
<polygon points="867.4,117.2 874.2,115.8 881.8,162 890.5,93.4 1015.8,93.4 1015.8,96.7 893.3,96.7 883.4,181 877.2,181"/>
<text transform="translate(903.70,158.00) scale(0.9516,1)" x="-0.19" y="0" font-size="76" font-family="Liberation Sans, sans-serif" font-style="italic">s</text>
<text transform="translate(943.10,180.40) scale(0.9936,1)" x="-1.62" y="0" font-size="52.8" font-family="Liberation Sans, sans-serif" font-style="italic">N</text>
<text transform="translate(978.80,180.40) scale(1.0128,1)" x="-1.62" y="0" font-size="52.8" font-family="Liberation Sans, sans-serif" font-style="italic">N</text>
<rect x="1039.2" y="131.2" width="36.3" height="4.9"/><rect x="1039.2" y="144.1" width="36.3" height="4.9"/>
<path d="M1119.87,103.01 L1124.17,103.01 L1124.17,157.00 L1117.88,157.00 L1117.88,118.48 L1106.00,118.48 L1106.00,113.54 C1114.99,112.96 1119.16,110.13 1119.87,103.01 Z"/>
<text transform="translate(1142.00,157.80) scale(0.9572,1)" x="-2.97" y="0" font-size="78" font-family="Liberation Sans, sans-serif">3</text>
<text transform="translate(1202.50,157.00) scale(0.9630,1)" x="-1.74" y="0" font-size="77.5" font-family="Liberation Sans, sans-serif">T</text>
<text transform="translate(1248.50,157.00) scale(0.9789,1)" x="-3.29" y="0" font-size="77.5" font-family="Liberation Sans, sans-serif">e</text>
<text transform="translate(1289.20,157.00) scale(0.8861,1)" x="-0.34" y="0" font-size="77.5" font-family="Liberation Sans, sans-serif">V</text>
<text x="482.94" y="270.00" font-size="94" font-family="Liberation Sans, sans-serif">p</text>
<text x="533.74" y="270.00" font-size="94" font-family="Liberation Sans, sans-serif">p</text>
<text x="632.84" y="270.00" font-size="94" font-family="Liberation Sans, sans-serif">p</text>
<text x="682.14" y="270.00" font-size="94" font-family="Liberation Sans, sans-serif">p</text>
<rect x="589.9" y="244.1" width="43.9" height="6.0"/><rect x="608.7" y="224.9" width="6.2" height="44.0"/>
<rect x="634" y="209" width="99.8" height="4.2"/>
<text transform="translate(1148.90,2239.60) scale(1.0206,1)" x="-4.19" y="0" font-size="110" font-family="Liberation Serif, serif">Δ</text>
<text transform="translate(1223.80,2239.20) scale(1.1078,1)" x="-3.37" y="0" font-size="113" font-family="Liberation Serif, serif" font-style="italic" stroke="#000" stroke-width="1.5">φ</text>
<text transform="translate(1324.30,2239.60) scale(0.8323,1)" x="-6.66" y="0" font-size="107.4" font-family="Liberation Sans, sans-serif">(</text>
<text transform="translate(1359.30,2239.60) scale(1.0093,1)" x="-7.13" y="0" font-size="107.4" font-family="Liberation Sans, sans-serif">r</text>
<text transform="translate(1392.00,2239.60) scale(0.9607,1)" x="-4.56" y="0" font-size="107.4" font-family="Liberation Sans, sans-serif">a</text>
<text transform="translate(1448.40,2239.60) scale(1.0766,1)" x="-4.51" y="0" font-size="107.4" font-family="Liberation Sans, sans-serif">d</text>
<text transform="translate(1511.60,2239.60) scale(0.7937,1)" x="-0.63" y="0" font-size="107.4" font-family="Liberation Sans, sans-serif">)</text>
<g transform="translate(184,1200.0) rotate(-90)">
<text transform="translate(18.30,0.00) scale(0.9551,1)" x="-6.68" y="0" font-size="121" font-family="Liberation Sans, sans-serif" font-style="italic">C</text>
<text transform="translate(104.00,38.80) scale(0.9236,1)" x="-6.81" y="0" font-size="83" font-family="Liberation Sans, sans-serif">P</text>
<text transform="translate(154.50,-1.50) scale(0.8349,1)" x="-7.26" y="0" font-size="117" font-family="Liberation Sans, sans-serif">(</text>
<text transform="translate(182.40,-1.60) scale(1.0266,1)" x="-4.57" y="0" font-size="120" font-family="Liberation Serif, serif">Δ</text>
<text transform="translate(264.30,-2.70) scale(1.0696,1)" x="-3.69" y="0" font-size="124" font-family="Liberation Serif, serif" font-style="italic" stroke="#000" stroke-width="1.5">φ</text>
<text transform="translate(335.10,-1.50) scale(0.8027,1)" x="-0.69" y="0" font-size="117" font-family="Liberation Sans, sans-serif">)</text>
</g>
</g>
<g fill="#b3b3b3">
<text transform="translate(11.30,2295.90) scale(1.0186,1)" x="-0.43" y="0" font-size="44" font-family="Liberation Serif, serif" font-weight="bold">A</text>
<text transform="translate(44.00,2295.90) scale(1.0393,1)" x="-0.75" y="0" font-size="44" font-family="Liberation Serif, serif" font-weight="bold">L</text>
<text transform="translate(76.70,2295.90) scale(1.5186,1)" x="-1.48" y="0" font-size="44" font-family="Liberation Serif, serif" font-weight="bold">I</text>
<rect x="104.3" y="2279.8" width="26.2" height="5.4" rx="2.5"/>
<text transform="translate(133.20,2295.90) scale(1.0410,1)" x="-0.75" y="0" font-size="44" font-family="Liberation Serif, serif" font-weight="bold">P</text>
<text transform="translate(163.00,2295.90) scale(0.9769,1)" x="-1.10" y="0" font-size="44" font-family="Liberation Serif, serif" font-weight="bold">U</text>
<text transform="translate(193.70,2295.90) scale(1.0039,1)" x="-0.73" y="0" font-size="44" font-family="Liberation Serif, serif" font-weight="bold">B</text>
<rect x="224.2" y="2279.8" width="25.9" height="5.4" rx="2.5"/>
<text transform="translate(257.30,2295.90) scale(1.1134,1)" x="-1.59" y="0" font-size="46.5" font-family="Liberation Serif, serif" font-weight="bold">6</text>
<text transform="translate(286.70,2295.90) scale(1.2500,1)" x="-3.72" y="0" font-size="46.5" font-family="Liberation Serif, serif" font-weight="bold">1</text>
<text transform="translate(314.90,2295.90) scale(1.1918,1)" x="-1.95" y="0" font-size="46.5" font-family="Liberation Serif, serif" font-weight="bold">2</text>
<text transform="translate(346.50,2295.90) scale(1.1467,1)" x="-1.77" y="0" font-size="46.5" font-family="Liberation Serif, serif" font-weight="bold">0</text>
<text transform="translate(375.80,2295.90) scale(1.0390,1)" x="-0.64" y="0" font-size="46.5" font-family="Liberation Serif, serif" font-weight="bold">4</text>
<text transform="translate(406.30,2295.90) scale(1.2909,1)" x="-3.72" y="0" font-size="46.5" font-family="Liberation Serif, serif" font-weight="bold">1</text>
</g>
</svg></body></html>
